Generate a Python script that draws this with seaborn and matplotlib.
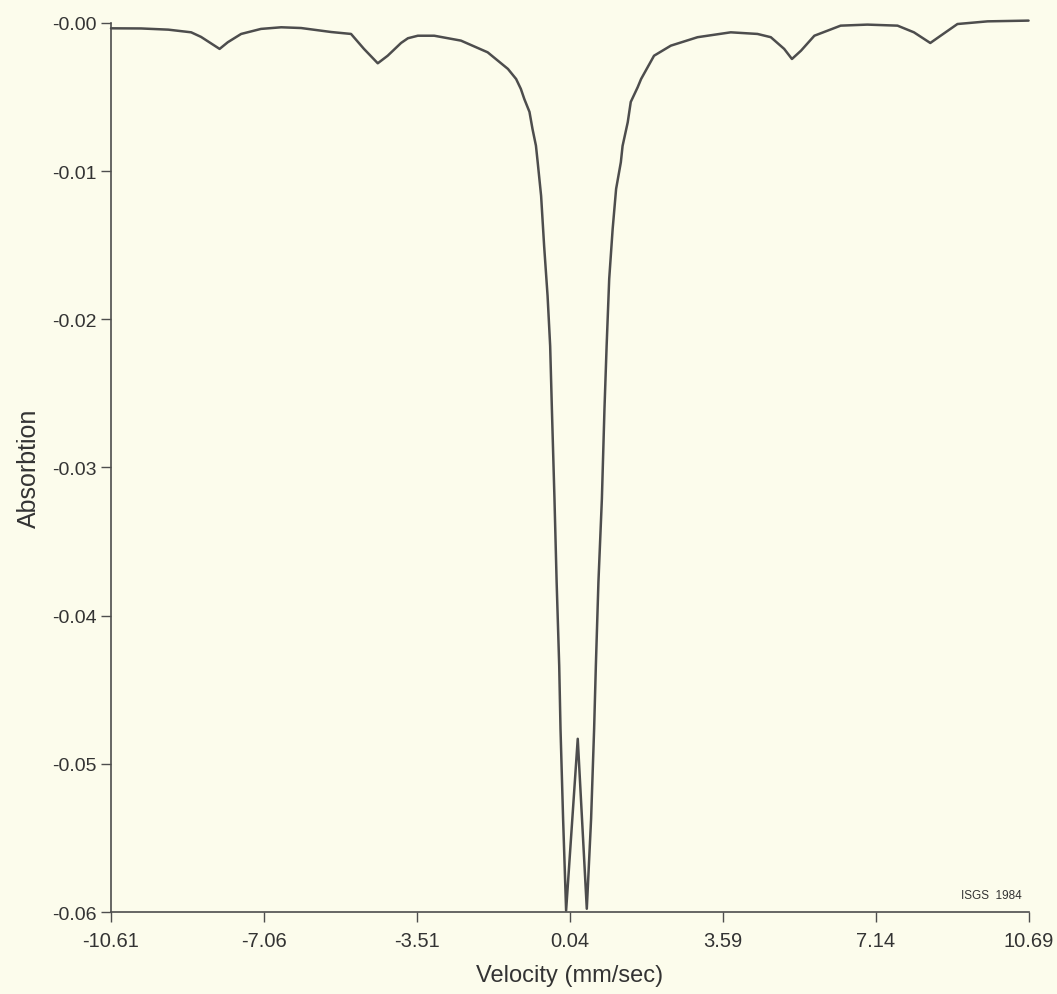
import matplotlib
matplotlib.use("Agg")
import matplotlib.pyplot as plt
import seaborn as sns
import pandas as pd

# Mossbauer spectrum
velocity = [-10.61, -9.91, -9.28, -8.75, -8.52, -8.35, -8.09, -7.90, -7.59,
            -7.13, -6.66, -6.20, -5.50, -5.04, -4.74, -4.42, -4.19, -3.88,
            -3.72, -3.49, -3.11, -2.49, -1.87, -1.40, -1.21, -1.10, -1.02,
            -0.90, -0.83, -0.75, -0.71, -0.63, -0.56, -0.48, -0.42, -0.38,
            -0.32, -0.27, -0.21, -0.18, -0.12, -0.05, 0.22, 0.43, 0.53,
            0.60, 0.64, 0.70, 0.78, 0.84, 0.89, 0.95, 1.03, 1.11, 1.22,
            1.26, 1.38, 1.45, 1.61, 1.69, 1.99, 2.38, 3.00, 3.77, 4.39,
            4.70, 5.01, 5.19, 5.40, 5.71, 6.32, 6.94, 7.64, 8.02, 8.40,
            8.64, 9.03, 9.73, 10.68]
absorption = [-0.00036, -0.00037, -0.00045, -0.00063, -0.00094, -0.00126,
              -0.00175, -0.00130, -0.00074, -0.00040, -0.00029, -0.00034,
              -0.00061, -0.00074, -0.00175, -0.00272, -0.00221, -0.00135,
              -0.00103, -0.00086, -0.00086, -0.00119, -0.00198, -0.00310,
              -0.00378, -0.00445, -0.00513, -0.00600, -0.00715, -0.00828,
              -0.00938, -0.01167, -0.01505, -0.01842, -0.02180, -0.02605,
              -0.03212, -0.03772, -0.04339, -0.04764, -0.05370, -0.05990,
              -0.04831, -0.05978, -0.05370, -0.04764, -0.04339, -0.03772,
              -0.03212, -0.02605, -0.02180, -0.01727, -0.01390, -0.01120,
              -0.00940, -0.00830, -0.00670, -0.00533, -0.00434, -0.00378,
              -0.00221, -0.00153, -0.00096, -0.00063, -0.00074, -0.00096,
              -0.00175, -0.00243, -0.00187, -0.00086, -0.00018, -0.00011,
              -0.00018, -0.00063, -0.00135, -0.00086, -0.00007, 0.00011,
              0.00016]

x_ticks = [-10.61, -7.06, -3.51, 0.04, 3.59, 7.14, 10.69]
x_labels = ["-10.61", "-7.06", "-3.51", "0.04", "3.59", "7.14", "10.69"]
y_ticks = [-0.06, -0.05, -0.04, -0.03, -0.02, -0.01, 0.0]
y_labels = ["-0.06", "-0.05", "-0.04", "-0.03", "-0.02", "-0.01", "-0.00"]

df = pd.DataFrame({"velocity": velocity, "absorption": absorption})

sns.set_theme(style="ticks")
plt.rcParams["font.family"] = ["Liberation Sans", "DejaVu Sans"]

bg = "#FCFCEC"
ink = "#4d4d4d"
txt = "#333333"

fig = plt.figure(figsize=(10.57, 9.95), dpi=100, facecolor=bg)
ax = fig.add_axes([0.105, 0.0824, 0.8685, 0.8935], facecolor=bg)

sns.lineplot(data=df, x="velocity", y="absorption", sort=False,
             estimator=None, color=ink, linewidth=1.8, ax=ax)
for l in ax.lines:
    l.set_clip_on(False)
    l.set_solid_joinstyle("round")

ax.set_xlim(-10.61, 10.69)
ax.set_ylim(-0.06, 0.0)
ax.set_xticks(x_ticks)
ax.set_xticklabels(x_labels)
ax.set_yticks(y_ticks)
ax.set_yticklabels(y_labels)

for s in ["top", "right"]:
    ax.spines[s].set_visible(False)
for s in ["left", "bottom"]:
    ax.spines[s].set_color(ink)
    ax.spines[s].set_linewidth(1.2)

ax.tick_params(axis="both", colors=ink, labelcolor=txt, length=7, width=1.0)
ax.tick_params(axis="x", pad=7, labelsize=14.5)
ax.tick_params(axis="y", pad=3, labelsize=14)

ax.set_xlabel("Velocity (mm/sec)", fontsize=17, color=txt, labelpad=10)
ax.set_ylabel("Absorbtion", fontsize=18, color=txt, labelpad=8)

ax.text(0.992, 0.012, "ISGS  1984", transform=ax.transAxes, ha="right",
        va="bottom", fontsize=8.5, color=txt)

fig.savefig("out.png", dpi=100, facecolor=bg)
